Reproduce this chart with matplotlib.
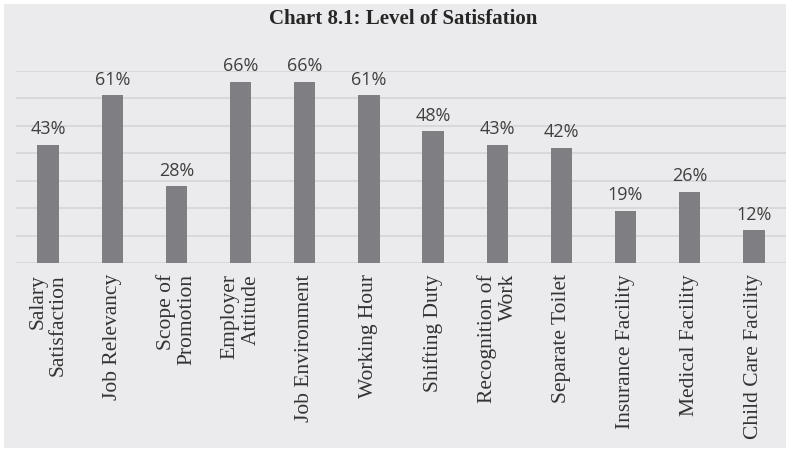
import matplotlib
matplotlib.use("Agg")
import matplotlib.pyplot as plt
from matplotlib.patches import Rectangle
import numpy as np

categories = ["Salary\nSatisfaction", "Job Relevancy", "Scope of\nPromotion",
              "Employer\nAttitude", "Job Environment", "Working Hour",
              "Shifting Duty", "Recognition of\nWork", "Separate Toilet",
              "Insurance Facility", "Medical Facility", "Child Care Facility"]
satisfaction = [43, 61, 28, 66, 66, 61, 48, 43, 42, 19, 26, 12]

W, H = 788, 449
bg = "#ebebed"

fig = plt.figure(figsize=(W / 100, H / 100), dpi=100, facecolor="white")
# grey panel with a thin white margin
fig.patches.append(Rectangle((4 / W, 1 - 448 / H), 782 / W, 444 / H,
                             transform=fig.transFigure, facecolor=bg,
                             edgecolor="none", zorder=-10))

ax = fig.add_axes([16 / W, 1 - 263 / H, 770 / W, 192.5 / H])
ax.set_facecolor("none")
ax.set_zorder(1)

x = np.arange(len(categories))
ax.bar(x, satisfaction, width=0.33, color="#7f7f83", zorder=3)

for xi, v in zip(x, satisfaction):
    ax.text(xi, v + 2.3, f"{v}%", ha="center", va="bottom",
            fontsize=13, family="Open Sans", color="#404040")

ax.set_xlim(-0.5, 11.5)
ax.set_ylim(0, 70)
ax.set_yticks(np.arange(0, 71, 10))
ax.set_yticklabels([])
ax.grid(axis="y", color="#d6d6d8", linewidth=1.3, zorder=0)
ax.tick_params(axis="both", length=0)
for s in ax.spines.values():
    s.set_visible(False)

ax.set_xticks(x)
ax.set_xticklabels(categories, rotation=90, ha="center", va="top",
                   multialignment="right", family="Liberation Serif",
                   fontsize=15.5, color="#333333", linespacing=1.12)
ax.tick_params(axis="x", pad=8)

fig.text(403 / W, 1 - 19 / H, "Chart 8.1: Level of Satisfation",
         ha="center", va="center", family="Liberation Serif",
         fontweight="bold", fontsize=15, color="#262626")

fig.savefig("out.png", dpi=100, facecolor="white")
